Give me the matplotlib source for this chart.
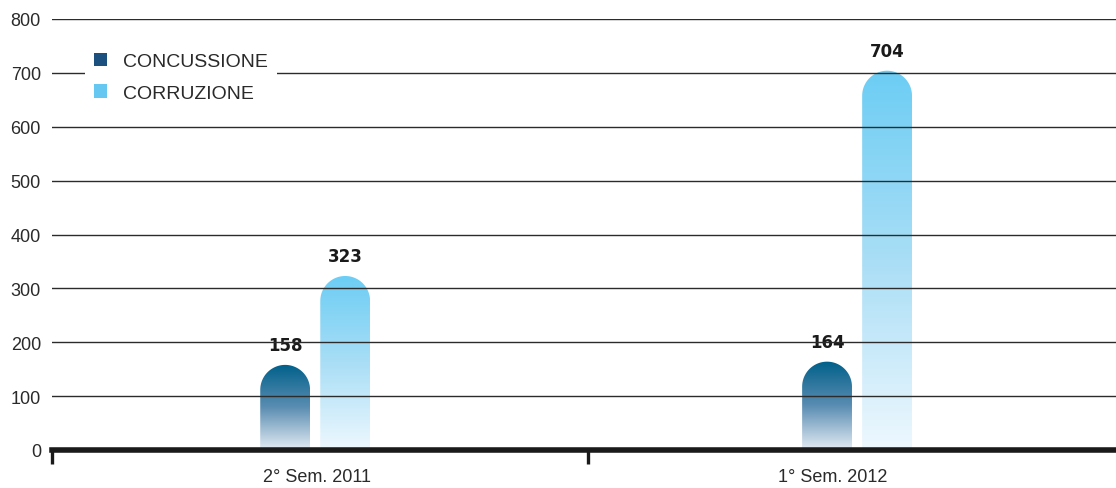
import numpy as np
import matplotlib.pyplot as plt
from matplotlib.colors import LinearSegmentedColormap
from matplotlib.path import Path
from matplotlib.patches import PathPatch, Patch

# data
periods = ['2° Sem. 2011', '1° Sem. 2012']
series = ['CONCUSSIONE', 'CORRUZIONE']
concussione = [158, 164]
corruzione = [323, 704]
yticks = [0, 100, 200, 300, 400, 500, 600, 700, 800]

# style / layout
W, H = 1116, 489
conc_cmap = LinearSegmentedColormap.from_list('conc', ['#e4ecf4', '#5a8db2', '#00608a'])
corr_cmap = LinearSegmentedColormap.from_list('corr', ['#eef8fe', '#a9def6', '#6ccdf4'])
bar_w = 0.093
offsets = [-0.065, 0.047]
cat_shift = [0.0, 0.011]
label_pos = [0.494, 1.457]

plt.rcParams['font.family'] = ['Liberation Sans', 'DejaVu Sans']

fig = plt.figure(figsize=(W / 100, H / 100), dpi=100)
ax = fig.add_axes([52 / W, 38 / H, 1 - 52 / W, 431 / H])
ax.set_xlim(0, (W - 52) / 536)
ax.set_ylim(0, 800)

# radius of the rounded top: 25 px expressed in y data units
ry = 25 * 800 / 431


def rounded_bar(xc, value, cmap):
    x0, x1 = xc - bar_w / 2, xc + bar_w / 2
    t = np.linspace(np.pi, 0, 40)
    top = value - ry
    verts = [(x0, 0), (x0, top)]
    verts += list(zip(xc + bar_w / 2 * np.cos(t), top + ry * np.sin(t)))
    verts += [(x1, 0), (x0, 0)]
    codes = [Path.MOVETO] + [Path.LINETO] * (len(verts) - 2) + [Path.CLOSEPOLY]
    clip = PathPatch(Path(verts, codes), facecolor='none', edgecolor='none')
    ax.add_patch(clip)
    grad = np.linspace(0, 1, 256).reshape(-1, 1)
    im = ax.imshow(grad, cmap=cmap, origin='lower', aspect='auto',
                   extent=[x0, x1, 0, value], zorder=1)
    im.set_clip_path(clip)
    ax.annotate(str(value), (xc, value), xytext=(0, 8), textcoords='offset points',
                ha='center', va='bottom', fontsize=12, fontweight='bold',
                family='DejaVu Sans', color='#1a1a1a')


for i in range(len(periods)):
    rounded_bar(i + 0.5 + cat_shift[i] + offsets[0], concussione[i], conc_cmap)
    rounded_bar(i + 0.5 + cat_shift[i] + offsets[1], corruzione[i], corr_cmap)

# grid on top of bars
for y in yticks[1:]:
    ax.axhline(y, color='#2b2b2b', lw=1.0, zorder=3)

for s in ['top', 'right', 'left']:
    ax.spines[s].set_visible(False)
ax.spines['bottom'].set_linewidth(4)
ax.spines['bottom'].set_color('#1a1a1a')
ax.spines['bottom'].set_zorder(4)

ax.set_yticks(yticks)
ax.tick_params(axis='y', length=0, pad=8, labelsize=13, labelcolor='#2a2a2a')

ax.set_xticks(label_pos)
ax.set_xticklabels(periods)
ax.set_xticks([0, 1], minor=True)
ax.tick_params(axis='x', which='major', length=0, pad=13, labelsize=13, labelcolor='#2a2a2a')
ax.tick_params(axis='x', which='minor', length=10, width=2.4, color='#1a1a1a', direction='out')

handles = [Patch(facecolor='#1c507e', edgecolor='none'),
           Patch(facecolor='#66c8f0', edgecolor='none')]
leg = ax.legend(handles, series, loc='upper left', bbox_to_anchor=(85 / W, 1 - 45 / H),
                bbox_transform=fig.transFigure, frameon=True, fancybox=False,
                framealpha=1, edgecolor='none', facecolor='white',
                fontsize=14, handlelength=0.68, handleheight=0.68, handletextpad=0.85,
                labelspacing=0.72, borderpad=0.45, borderaxespad=0)
for t in leg.get_texts():
    t.set_color('#2a2a2a')
leg.set_zorder(5)

fig.savefig('out.png', dpi=100)
